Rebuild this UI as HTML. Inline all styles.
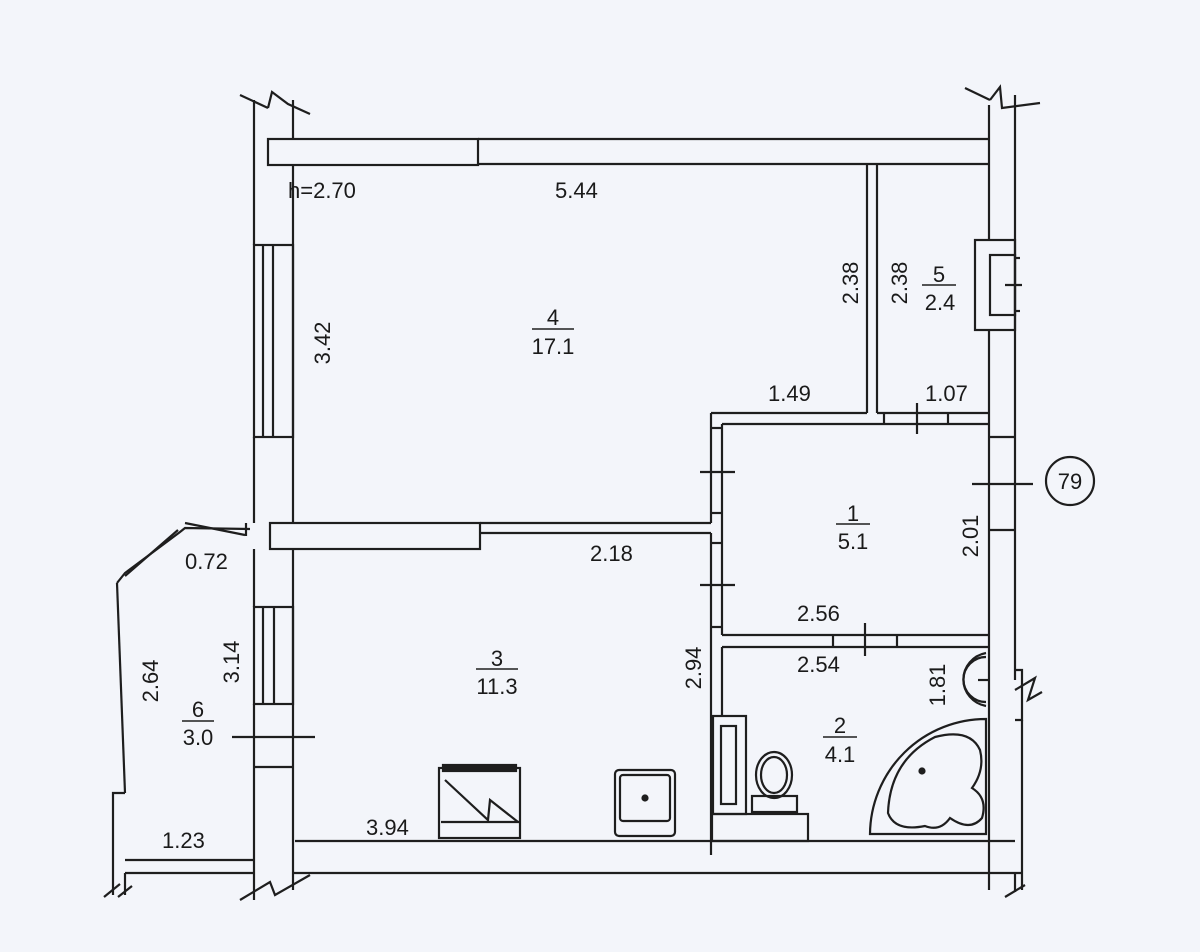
<!DOCTYPE html>
<html><head><meta charset="utf-8"><style>
html,body{margin:0;padding:0;background:#f3f5fa;}
svg{display:block;}
text{font-family:"Liberation Sans",sans-serif;font-size:22px;fill:#1a1a1a;}
</style></head><body>
<svg width="1200" height="952" viewBox="0 0 1200 952" xmlns="http://www.w3.org/2000/svg">
<rect width="1200" height="952" fill="#f3f5fa"/>
<g stroke="#1e1e1e" stroke-width="2.2" fill="none">
<line x1="254" y1="100" x2="254" y2="245"/>
<line x1="293" y1="100" x2="293" y2="139"/>
<line x1="293" y1="164" x2="293" y2="523"/>
<line x1="254" y1="437" x2="254" y2="523"/>
<line x1="254" y1="549" x2="254" y2="607"/>
<line x1="293" y1="549" x2="293" y2="890"/>
<line x1="254" y1="704" x2="254" y2="900"/>
<line x1="240" y1="95" x2="268" y2="108"/>
<path d="M268 108 L272 92 L288 104 L310 114"/>
<rect x="254" y="245" width="39" height="192"/>
<line x1="263" y1="245" x2="263" y2="437"/>
<line x1="273" y1="245" x2="273" y2="437"/>
<rect x="254" y="607" width="39" height="97"/>
<line x1="263" y1="607" x2="263" y2="704"/>
<line x1="274" y1="607" x2="274" y2="704"/>
<line x1="254" y1="767" x2="293" y2="767"/>
<rect x="268" y="139" width="210" height="26"/>
<line x1="478" y1="139" x2="989" y2="139"/>
<line x1="478" y1="164" x2="989" y2="164"/>
<line x1="989" y1="105" x2="989" y2="240"/>
<line x1="1015" y1="95" x2="1015" y2="680"/>
<line x1="989" y1="330" x2="989" y2="890"/>
<line x1="965" y1="88" x2="990" y2="100"/>
<path d="M990 100 L1000 87 L1002 108 L1040 103"/>
<rect x="975" y="240" width="40" height="90"/>
<rect x="990" y="255" width="25" height="60"/>
<line x1="1005" y1="285" x2="1022" y2="285"/>
<line x1="1015" y1="258" x2="1020" y2="258"/>
<line x1="1015" y1="311" x2="1020" y2="311"/>
<line x1="989" y1="437" x2="1015" y2="437"/>
<line x1="989" y1="530" x2="1015" y2="530"/>
<line x1="972" y1="484" x2="1033" y2="484"/>
<circle cx="1070" cy="481" r="24"/>
<path d="M1015 670 L1022 670 L1022 720 L1015 720"/>
<path d="M1015 690 L1035 678 L1028 700 L1042 692"/>
<line x1="1022" y1="720" x2="1022" y2="890"/>
<line x1="867" y1="164" x2="867" y2="413"/>
<line x1="877" y1="164" x2="877" y2="413"/>
<line x1="711" y1="413" x2="867" y2="413"/>
<line x1="877" y1="413" x2="989" y2="413"/>
<line x1="722" y1="424" x2="989" y2="424"/>
<line x1="884" y1="413" x2="884" y2="424"/>
<line x1="948" y1="413" x2="948" y2="424"/>
<line x1="917" y1="403" x2="917" y2="434"/>
<line x1="711" y1="413" x2="711" y2="523"/>
<line x1="722" y1="424" x2="722" y2="635"/>
<line x1="711" y1="428" x2="722" y2="428"/>
<line x1="711" y1="513" x2="722" y2="513"/>
<line x1="711" y1="533" x2="711" y2="855"/>
<line x1="711" y1="543" x2="722" y2="543"/>
<line x1="711" y1="627" x2="722" y2="627"/>
<line x1="700" y1="472" x2="735" y2="472"/>
<line x1="700" y1="585" x2="735" y2="585"/>
<rect x="270" y="523" width="210" height="26"/>
<line x1="480" y1="523" x2="711" y2="523"/>
<line x1="480" y1="533" x2="711" y2="533"/>
<line x1="722" y1="635" x2="989" y2="635"/>
<line x1="722" y1="647" x2="989" y2="647"/>
<line x1="722" y1="647" x2="722" y2="716"/>
<line x1="833" y1="635" x2="833" y2="647"/>
<line x1="897" y1="635" x2="897" y2="647"/>
<line x1="865" y1="623" x2="865" y2="656"/>
<line x1="295" y1="841" x2="1015" y2="841"/>
<line x1="293" y1="873" x2="1022" y2="873"/>
<line x1="1015" y1="873" x2="1015" y2="892"/>
<line x1="1005" y1="897" x2="1025" y2="885"/>
<path d="M117 583 L125 793"/>
<path d="M125 793 L113 793 L113 895"/>
<line x1="125" y1="860" x2="254" y2="860"/>
<line x1="125" y1="873" x2="254" y2="873"/>
<line x1="125" y1="873" x2="125" y2="895"/>
<path d="M117 583 L125 573 L180 532 L185 528 L250 529"/>
<path d="M125 576 L178 530"/>
<line x1="185" y1="523" x2="245" y2="535"/>
<line x1="246" y1="523" x2="246" y2="536"/>
<line x1="104" y1="897" x2="120" y2="884"/>
<line x1="118" y1="897" x2="132" y2="886"/>
<path d="M240 900 L270 882 L275 895 L310 875"/>
<line x1="232" y1="737" x2="315" y2="737"/>
<rect x="439" y="768" width="81" height="70"/>
<rect x="443" y="765" width="73" height="6" fill="#1e1e1e"/>
<line x1="441" y1="822" x2="520" y2="822"/>
<path d="M445 780 L488 820 L490 800 L518 822"/>
<rect x="615" y="770" width="60" height="66" rx="4"/>
<rect x="620" y="775" width="50" height="46" rx="3"/>
<circle cx="645" cy="798" r="2.5" fill="#1e1e1e"/>
<rect x="713" y="716" width="33" height="98"/>
<rect x="721" y="726" width="15" height="78"/>
<ellipse cx="774" cy="775" rx="18" ry="23"/>
<ellipse cx="774" cy="775" rx="13" ry="18"/>
<rect x="752" y="796" width="45" height="16"/>
<rect x="712" y="814" width="96" height="27"/>
<path d="M986 653 A28 27 0 0 0 986 706"/>
<path d="M986 657 A22 22 0 0 0 986 702"/>
<line x1="978" y1="680" x2="990" y2="680"/>
<path d="M870 834 L986 834 L986 719 A116 116 0 0 0 870 834 Z"/>
<path d="M888 813 Q890 760 935 737 Q970 728 980 750 Q985 770 972 788 Q988 798 982 818 Q970 832 950 818 Q940 832 925 826 Q895 832 888 813 Z"/>
<circle cx="922" cy="771" r="2.5" fill="#1e1e1e"/>
</g>
<g>
<text x="288" y="198">h=2.70</text>
<text x="555" y="198">5.44</text>
<text x="553" y="325" text-anchor="middle">4</text>
<line x1="532" y1="329" x2="574" y2="329" stroke="#1e1e1e" stroke-width="1.5"/>
<text x="553" y="354" text-anchor="middle">17.1</text>
<text transform="translate(330,343) rotate(-90)" text-anchor="middle">3.42</text>
<text transform="translate(858,283) rotate(-90)" text-anchor="middle">2.38</text>
<text transform="translate(907,283) rotate(-90)" text-anchor="middle">2.38</text>
<text x="939" y="282" text-anchor="middle">5</text>
<line x1="922" y1="285" x2="956" y2="285" stroke="#1e1e1e" stroke-width="1.5"/>
<text x="940" y="310" text-anchor="middle">2.4</text>
<text x="768" y="401">1.49</text>
<text x="925" y="401">1.07</text>
<text x="1070" y="489" text-anchor="middle">79</text>
<text x="853" y="521" text-anchor="middle">1</text>
<line x1="836" y1="524" x2="870" y2="524" stroke="#1e1e1e" stroke-width="1.5"/>
<text x="853" y="549" text-anchor="middle">5.1</text>
<text transform="translate(978,536) rotate(-90)" text-anchor="middle">2.01</text>
<text x="185" y="569">0.72</text>
<text x="590" y="561">2.18</text>
<text x="797" y="621">2.56</text>
<text x="797" y="672">2.54</text>
<text transform="translate(701,668) rotate(-90)" text-anchor="middle">2.94</text>
<text x="497" y="666" text-anchor="middle">3</text>
<line x1="476" y1="669" x2="518" y2="669" stroke="#1e1e1e" stroke-width="1.5"/>
<text x="497" y="694" text-anchor="middle">11.3</text>
<text transform="translate(945,685) rotate(-90)" text-anchor="middle">1.81</text>
<text x="840" y="733" text-anchor="middle">2</text>
<line x1="823" y1="737" x2="857" y2="737" stroke="#1e1e1e" stroke-width="1.5"/>
<text x="840" y="762" text-anchor="middle">4.1</text>
<text transform="translate(158,681) rotate(-90)" text-anchor="middle">2.64</text>
<text transform="translate(239,662) rotate(-90)" text-anchor="middle">3.14</text>
<text x="198" y="717" text-anchor="middle">6</text>
<line x1="182" y1="721" x2="214" y2="721" stroke="#1e1e1e" stroke-width="1.5"/>
<text x="198" y="745" text-anchor="middle">3.0</text>
<text x="366" y="835">3.94</text>
<text x="162" y="848">1.23</text>
</g>
</svg>
</body></html>
